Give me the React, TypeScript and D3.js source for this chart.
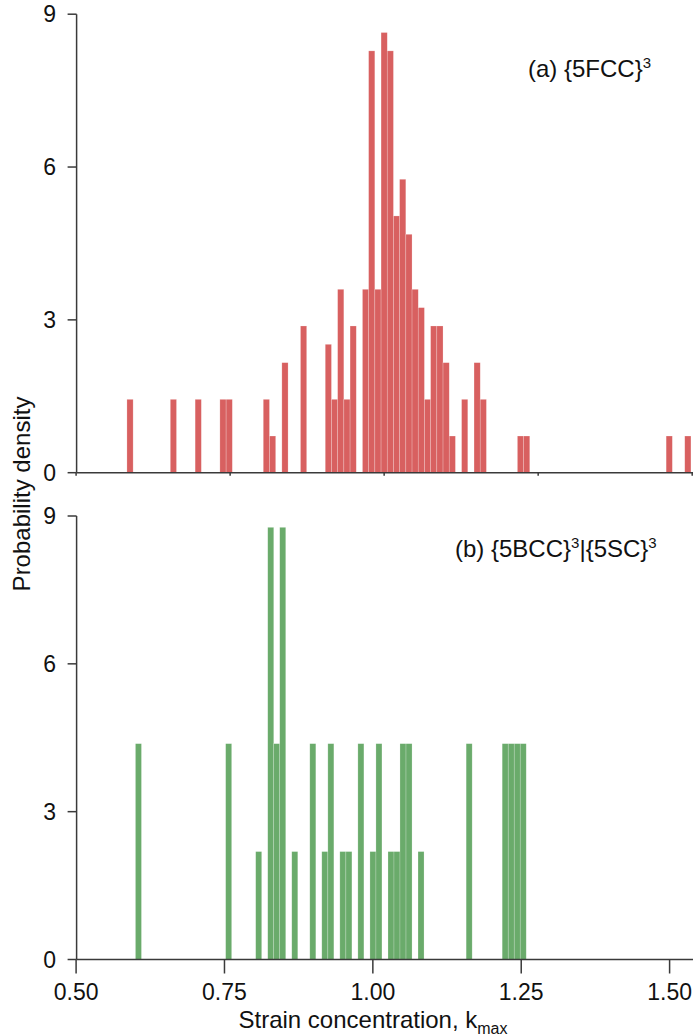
import React from "react";
import * as d3 from "d3";

// ---- data ----
const topBinLeft = [
  0.5825, 0.6529, 0.6932, 0.7334, 0.7435, 0.8038, 0.8139, 0.834, 0.8642, 0.9044,
  0.9145, 0.9245, 0.9346, 0.9447, 0.9648, 0.9748, 0.9849, 0.995, 1.005, 1.0151,
  1.0251, 1.0352, 1.0453, 1.0553, 1.0654, 1.0754, 1.0855, 1.0956, 1.1056, 1.1257,
  1.1459, 1.1559, 1.2163, 1.2263, 1.4577, 1.4879,
];
const topDensity = [
  1.44, 1.44, 1.44, 1.44, 1.44, 1.44, 0.72, 2.16, 2.88, 2.52,
  1.44, 3.6, 1.44, 2.88, 3.6, 8.28, 3.6, 8.64, 8.28, 5.04,
  5.76, 4.68, 3.6, 3.24, 1.44, 2.88, 2.88, 2.16, 0.72, 1.44,
  2.16, 1.44, 0.72, 0.72, 0.72, 0.72,
];
const topBinWidth = 0.01006;

const botBinLeft = [
  0.6, 0.752, 0.8026, 0.8229, 0.833, 0.8431, 0.8634, 0.8938, 0.914, 0.9242,
  0.9444, 0.9546, 0.9748, 0.9951, 1.0052, 1.0255, 1.0356, 1.0457, 1.0559, 1.0761,
  1.1572, 1.2179, 1.2281, 1.2382, 1.2483,
];
const botDensity = [
  4.38, 4.38, 2.19, 8.77, 4.38, 8.77, 2.19, 4.38, 2.19, 4.38,
  2.19, 2.19, 4.38, 2.19, 4.38, 2.19, 2.19, 4.38, 4.38, 2.19,
  4.38, 4.38, 4.38, 4.38, 4.38,
];
const botBinWidth = 0.01013;

const xTicks = [0.5, 0.75, 1.0, 1.25, 1.5];
const xTickLabels = ["0.50", "0.75", "1.00", "1.25", "1.50"];
const yTicks = [0, 3, 6, 9];

const FONT = "'Liberation Sans', Arial, Helvetica, sans-serif";
const AXIS = "#3a3a3a";
const RED = "#d86060";
const GREEN = "#6aab6b";

export default function App() {
  const W = 693;
  const H = 1036;
  const axisX = 76.6;

  const xTop = d3.scaleLinear().domain([0.5, 1.5]).range([76.1, 692.2]);
  const yTop = d3.scaleLinear().domain([0, 9]).range([472.7, 14.2]);
  const xBot = d3.scaleLinear().domain([0.5, 1.5]).range([76.1, 669.6]);
  const yBot = d3.scaleLinear().domain([0, 9]).range([959.5, 516]);

  const bars = (
    lefts: number[],
    vals: number[],
    bw: number,
    x: d3.ScaleLinear<number, number>,
    y: d3.ScaleLinear<number, number>,
    color: string
  ) =>
    lefts.map((k, i) => (
      <rect
        key={i}
        x={x(k)}
        y={y(vals[i])}
        width={x(k + bw) - x(k)}
        height={y(0) - y(vals[i])}
        fill={color}
        stroke="#ffffff"
        strokeOpacity={0.35}
        strokeWidth={0.6}
      />
    ));

  const yAxis = (y: d3.ScaleLinear<number, number>) => (
    <g>
      <line x1={axisX} x2={axisX} y1={y(9)} y2={y(0)} stroke={AXIS} strokeWidth={1.5} />
      {yTicks.map((t) => (
        <g key={t}>
          <line x1={axisX - 9} x2={axisX} y1={y(t)} y2={y(t)} stroke={AXIS} strokeWidth={1.5} />
          <text
            x={56}
            y={y(t)}
            dy="0.35em"
            textAnchor="end"
            fontSize={23}
            fontFamily={FONT}
            fill="#111"
          >
            {t}
          </text>
        </g>
      ))}
    </g>
  );

  return (
    <svg
      width={W}
      height={H}
      style={{ position: "absolute", left: 0, top: 0, background: "#fff" }}
    >
      <rect x={0} y={0} width={W} height={H} fill="#fff" />
      <defs>
        <clipPath id="clipAll">
          <rect x={0} y={0} width={W} height={H} />
        </clipPath>
      </defs>

      {/* top panel */}
      <g clipPath="url(#clipAll)">
        {bars(topBinLeft, topDensity, topBinWidth, xTop, yTop, RED)}
      </g>
      <line x1={axisX} x2={W} y1={yTop(0)} y2={yTop(0)} stroke={AXIS} strokeWidth={1.5} />
      {xTicks.map((t) => (
        <line key={t} x1={xTop(t)} x2={xTop(t)} y1={yTop(0)} y2={yTop(0) + 3} stroke={AXIS} strokeWidth={1.5} />
      ))}
      {yAxis(yTop)}
      <text x={528} y={77} fontSize={24} fontFamily={FONT} fill="#111">
        (a) {"{5FCC}"}
        <tspan dy={-9} fontSize={15}>3</tspan>
      </text>

      {/* bottom panel */}
      {bars(botBinLeft, botDensity, botBinWidth, xBot, yBot, GREEN)}
      <line x1={axisX} x2={W} y1={yBot(0)} y2={yBot(0)} stroke={AXIS} strokeWidth={1.5} />
      {xTicks.map((t, i) => (
        <g key={t}>
          <line x1={xBot(t)} x2={xBot(t)} y1={yBot(0)} y2={yBot(0) + 14} stroke={AXIS} strokeWidth={1.5} />
          <text
            x={xBot(t)}
            y={1000}
            textAnchor="middle"
            fontSize={23}
            fontFamily={FONT}
            fill="#111"
          >
            {xTickLabels[i]}
          </text>
        </g>
      ))}
      {yAxis(yBot)}
      <text x={455} y={557} fontSize={24} fontFamily={FONT} fill="#111">
        (b) {"{5BCC}"}
        <tspan dy={-9} fontSize={15}>3</tspan>
        <tspan dy={9}>{"|{5SC}"}</tspan>
        <tspan dy={-9} fontSize={15}>3</tspan>
      </text>

      {/* axis titles */}
      <text x={373} y={1028} textAnchor="middle" fontSize={24} fontFamily={FONT} fill="#111">
        Strain concentration, k
        <tspan dy={6} fontSize={16}>max</tspan>
      </text>
      <text
        transform="translate(30,494) rotate(-90)"
        textAnchor="middle"
        fontSize={24}
        fontFamily={FONT}
        fill="#111"
      >
        Probability density
      </text>
    </svg>
  );
}
